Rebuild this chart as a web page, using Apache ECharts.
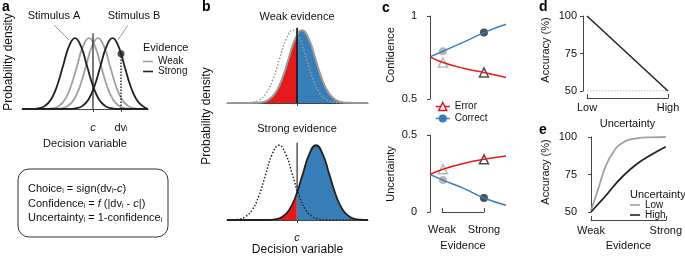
<!DOCTYPE html>
<html>
<head>
<meta charset="utf-8">
<script src="https://cdn.jsdelivr.net/npm/echarts@6/dist/echarts.min.js"></script>
<style>
  html, body { margin: 0; padding: 0; background: #fff; }
  #main { width: 685px; height: 259px; }
</style>
</head>
<body>
<div id="main"></div>
<script>
// bell shape, heights at half-sd steps
const bellOffsets = [-4, -3.5, -3, -2.5, -2, -1.5, -1, -0.5, 0, 0.5, 1, 1.5, 2, 2.5, 3, 3.5, 4];
const bellHeights = [0.0003, 0.002, 0.011, 0.044, 0.135, 0.325, 0.607, 0.882, 1, 0.882, 0.607, 0.325, 0.135, 0.044, 0.011, 0.002, 0.0003];

// a: decision variable (c = 0)
const aRange = [-71, 55];
const aSd = 12;
const aWeakMeans = [-4, 5];
const aStrongMeans = [-18, 19.5];
const aDv = 28;
const aDvDensity = 0.78;
const aCriterionTop = 1.07;

// b: [other stimulus (dotted), shown stimulus (filled)]
const bRange = [-70, 71];
const bSd = 13.4;
const bWeakMeans = [-4, 5];
const bStrongMeans = [-18, 19];
const bTop = 1.03;

// c
const evidenceX = [0, 0.17, 0.45, 0.71, 1];
const confCorrect = [0.754, 0.788, 0.844, 0.9, 0.95];
const confError = [0.754, 0.72, 0.684, 0.66, 0.63];
const uncCorrect = [0.244, 0.207, 0.152, 0.091, 0.044];
const uncError = [0.244, 0.278, 0.316, 0.342, 0.363];
const weakIdx = 1, strongIdx = 3;
const evidenceLabels = ['Weak', 'Strong'];

// d
const uncertaintyLabels = ['Low', 'High'];
const accByUncertainty = [100, 50];
const chanceLevel = [50, 50];

// e
const eEvidence = [0, 0.1, 0.2, 0.3, 0.4, 0.6, 0.8, 1];
const accLowUnc = [51, 66, 81, 90, 95.5, 99, 99.8, 100];
const accHighUnc = [50, 55.5, 61, 67, 72.5, 81.5, 88, 93.5];

const FONT = '"Liberation Sans", Arial, Helvetica, sans-serif';
const RED = '#e41a1c', BLUE = '#377eb8', GREY = '#a0a0a0', DARK = '#222', AXIS = '#444';

function bell(mean, sd, range) {
  const pts = [];
  bellOffsets.forEach((o, i) => {
    const x = mean + o * sd;
    if (x > range[0] && x < range[1]) pts.push([x, bellHeights[i]]);
  });
  return [[range[0], 0]].concat(pts, [[range[1], 0]]);
}

const pairs = (xs, ys) => xs.map((x, i) => [x, ys[i]]);

const axisLine = { show: true, lineStyle: { color: AXIS, width: 1 } };
const nameStyle = { color: '#111', fontSize: 11, fontFamily: FONT };
const labelStyle = { color: '#111', fontSize: 11, fontFamily: FONT };

var chartDom = document.getElementById('main');
var myChart = echarts.init(chartDom, null, { renderer: 'canvas' });

const grids = [
  { left: 22, top: 31, width: 126, height: 78 },    // a
  { left: 227, top: 28, width: 141, height: 75 },   // b weak
  { left: 227, top: 143, width: 141, height: 77 },  // b strong
  { left: 430, top: 16, width: 76, height: 83 },    // c confidence
  { left: 430, top: 135, width: 76, height: 77 },   // c uncertainty
  { left: 442, top: 135, width: 42, height: 77 },   // c evidence bracket
  { left: 587, top: 16, width: 81, height: 75 },    // d
  { left: 591, top: 137, width: 77, height: 75 }    // e
];

const xAxes = [
  {
    gridIndex: 0, type: 'value', min: aRange[0], max: aRange[1], offset: 8,
    axisLine, splitLine: { show: false },
    axisTick: { customValues: [0, aDv], length: 3, lineStyle: { color: AXIS } },
    axisLabel: {
      customValues: [0, aDv], margin: 5, ...labelStyle,
      formatter: v => (v === 0 ? '{it|c}' : 'dv{sub|i}'),
      rich: {
        it: { fontStyle: 'italic', fontSize: 11, fontFamily: FONT },
        sub: { fontSize: 7, fontFamily: FONT, verticalAlign: 'bottom' }
      }
    },
    name: 'Decision variable', nameLocation: 'middle', nameGap: 21, nameTextStyle: nameStyle
  },
  {
    gridIndex: 1, type: 'value', min: bRange[0], max: bRange[1], offset: 5,
    axisLine, splitLine: { show: false },
    axisTick: { customValues: [0], length: 3, lineStyle: { color: AXIS } },
    axisLabel: { show: false }
  },
  {
    gridIndex: 2, type: 'value', min: bRange[0], max: bRange[1], offset: 7,
    axisLine, splitLine: { show: false },
    axisTick: { customValues: [0], length: 3, lineStyle: { color: AXIS } },
    axisLabel: { customValues: [0], margin: 5, ...labelStyle, fontStyle: 'italic', formatter: () => 'c' },
    name: 'Decision variable', nameLocation: 'middle', nameGap: 17,
    nameTextStyle: { ...nameStyle, fontSize: 12 }
  },
  { gridIndex: 3, type: 'value', min: 0, max: 1, show: false },
  { gridIndex: 4, type: 'value', min: 0, max: 1, show: false },
  {
    gridIndex: 5, type: 'category', data: evidenceLabels, boundaryGap: false, offset: 7,
    axisLine, axisTick: { inside: true, length: 4, interval: 0, lineStyle: { color: AXIS } },
    axisLabel: { margin: 5, interval: 0, hideOverlap: false, ...labelStyle },
    name: 'Evidence', nameLocation: 'middle', nameGap: 21, nameTextStyle: nameStyle
  },
  {
    gridIndex: 6, type: 'category', data: uncertaintyLabels, boundaryGap: false, offset: 7,
    axisLine, axisTick: { inside: true, length: 4, interval: 0, lineStyle: { color: AXIS } },
    axisLabel: { margin: 4, interval: 0, ...labelStyle },
    name: 'Uncertainty', nameLocation: 'middle', nameGap: 20, nameTextStyle: nameStyle
  },
  {
    gridIndex: 7, type: 'value', min: 0, max: 1, interval: 1, offset: 8,
    axisLine, splitLine: { show: false },
    axisTick: { inside: true, length: 4, lineStyle: { color: AXIS } },
    axisLabel: { margin: 5, ...labelStyle, formatter: v => evidenceLabels[v] },
    name: 'Evidence', nameLocation: 'middle', nameGap: 20, nameTextStyle: nameStyle
  }
];

const yTicked = (gridIndex, min, max, interval, offset) => ({
  gridIndex, type: 'value', min, max, interval, offset,
  axisLine, splitLine: { show: false },
  axisTick: { show: true, length: 3, lineStyle: { color: AXIS } },
  axisLabel: { margin: 6, ...labelStyle }
});

const yAxes = [
  { gridIndex: 0, type: 'value', min: 0, max: 1.1, show: false },
  { gridIndex: 1, type: 'value', min: 0, max: bTop, offset: 10, axisLine, axisTick: { show: false }, axisLabel: { show: false }, splitLine: { show: false } },
  { gridIndex: 2, type: 'value', min: 0, max: bTop, offset: 10, axisLine, axisTick: { show: false }, axisLabel: { show: false }, splitLine: { show: false } },
  yTicked(3, 0.5, 1, 0.5, 7),
  yTicked(4, 0, 0.5, 0.5, 7),
  { gridIndex: 5, type: 'value', show: false },
  yTicked(6, 50, 100, 25, 4),
  yTicked(7, 50, 100, 25, 8)
];

const curve = (name, idx, data, color, width, extra = {}) => Object.assign({
  name, type: 'line', xAxisIndex: idx, yAxisIndex: idx, data,
  smooth: true, symbol: 'none', showSymbol: false, silent: true,
  color, lineStyle: { color, width }
}, extra);

const series = [
  // a
  curve('Weak', 0, bell(aWeakMeans[0], aSd, aRange), GREY, 1.8),
  curve('Weak', 0, bell(aWeakMeans[1], aSd, aRange), GREY, 1.8),
  curve('Strong', 0, bell(aStrongMeans[0], aSd, aRange), DARK, 1.8),
  curve('Strong', 0, bell(aStrongMeans[1], aSd, aRange), DARK, 1.8),
  curve('criterion a', 0, [[0, 0], [0, aCriterionTop]], DARK, 1.2, { smooth: false }),
  curve('dv a', 0, [[aDv, 0], [aDv, aDvDensity]], DARK, 1.4, { smooth: false, lineStyle: { color: DARK, width: 1.4, type: [1.5, 1.5] } }),
  { name: 'dv point', type: 'scatter', xAxisIndex: 0, yAxisIndex: 0, data: [[aDv, aDvDensity]], symbolSize: 7, itemStyle: { color: DARK }, silent: true },

  // b weak
  curve('shown weak', 1, bell(bWeakMeans[1], bSd, bRange), '#9a9a9a', 2, { areaStyle: { opacity: 1 } }),
  curve('other weak', 1, bell(bWeakMeans[0], bSd, bRange), '#9a9a9a', 1.5, { lineStyle: { color: '#9a9a9a', width: 1.5, type: [1.5, 1.8] } }),
  curve('criterion bw', 1, [[0, 0], [0, bTop]], '#111', 1.5, { smooth: false }),

  // b strong
  curve('criterion bs', 2, [[0, 0], [0, bTop]], '#777', 1.5, { smooth: false }),
  curve('shown strong', 2, bell(bStrongMeans[1], bSd, bRange), DARK, 1.8, { areaStyle: { opacity: 1 } }),
  curve('other strong', 2, bell(bStrongMeans[0], bSd, bRange), DARK, 1.5, { lineStyle: { color: DARK, width: 1.5, type: [1.5, 1.8] } }),

  // c confidence
  curve('Correct', 3, pairs(evidenceX, confCorrect), BLUE, 1.5, { symbol: 'circle', itemStyle: { color: BLUE } }),
  curve('Error', 3, pairs(evidenceX, confError), RED, 1.5, { symbol: 'triangle', itemStyle: { color: '#fff', borderColor: RED, borderWidth: 1.5 } }),
  // c uncertainty
  curve('Correct', 4, pairs(evidenceX, uncCorrect), BLUE, 1.5, { symbol: 'circle', itemStyle: { color: BLUE } }),
  curve('Error', 4, pairs(evidenceX, uncError), RED, 1.5, { symbol: 'triangle', itemStyle: { color: '#fff', borderColor: RED, borderWidth: 1.5 } }),

  // d
  curve('chance', 6, chanceLevel, '#aaa', 1, { smooth: false, lineStyle: { color: '#aaa', width: 1, type: [1.5, 1.5] } }),
  curve('accuracy d', 6, accByUncertainty, DARK, 1.5, { smooth: false }),

  // e
  curve('Low', 7, pairs(eEvidence, accLowUnc), GREY, 1.8),
  curve('High', 7, pairs(eEvidence, accHighUnc), DARK, 1.8)
];

// evidence markers in c
[[3, confCorrect, confError], [4, uncCorrect, uncError]].forEach(([idx, corr, err]) => {
  series.push({
    name: 'correct markers', type: 'scatter', xAxisIndex: idx, yAxisIndex: idx, silent: true,
    symbol: 'circle', symbolSize: 8,
    data: [
      { value: [evidenceX[weakIdx], corr[weakIdx]], itemStyle: { color: '#a6a6a6' } },
      { value: [evidenceX[strongIdx], corr[strongIdx]], itemStyle: { color: DARK } }
    ]
  });
  series.push({
    name: 'error markers', type: 'scatter', xAxisIndex: idx, yAxisIndex: idx, silent: true,
    symbol: 'triangle', symbolSize: 9,
    data: [
      { value: [evidenceX[weakIdx], err[weakIdx]], itemStyle: { color: '#fff', borderColor: '#a6a6a6', borderWidth: 1.5 } },
      { value: [evidenceX[strongIdx], err[strongIdx]], itemStyle: { color: '#fff', borderColor: DARK, borderWidth: 1.5 } }
    ]
  });
});

const filledIdx = series.map((s, i) => (s.areaStyle ? i : -1)).filter(i => i >= 0);

const txt = (x, y, text, style = {}, rotation = 0) => ({
  type: 'text', x, y, rotation, silent: true,
  style: Object.assign({ text, fill: '#111', fontFamily: FONT, fontSize: 11, align: 'center', verticalAlign: 'middle' }, style)
});
const letter = (x, y, t) => txt(x, y, t, { fontSize: 14, fontWeight: 'bold', align: 'left', fill: '#000' });
const formulaRich = {
  sub: { fontSize: 7, fontFamily: FONT, verticalAlign: 'bottom' },
  it: { fontSize: 11, fontFamily: FONT, fontStyle: 'italic' }
};
const lead = (x1, y1, x2, y2) => ({ type: 'line', silent: true, shape: { x1, y1, x2, y2 }, style: { stroke: '#888', lineWidth: 0.8 } });

const graphics = [
  letter(2, 7, 'a'), letter(202, 7, 'b'), letter(382, 8, 'c'), letter(539, 7, 'd'), letter(539, 130, 'e'),
  txt(54, 16, 'Stimulus A'), txt(134, 16, 'Stimulus B'),
  lead(54, 25, 69, 40), lead(128, 25, 118, 40),
  txt(143, 48, 'Evidence', { align: 'left' }),
  txt(9, 62, 'Probability density', { fontSize: 12 }, Math.PI / 2),
  { type: 'rect', silent: true, shape: { x: 18, y: 169, width: 150, height: 68, r: 11 }, style: { fill: 'none', stroke: '#333', lineWidth: 1 } },
  txt(28, 189, 'Choice{sub|i} = sign(dv{sub|i}-{it|c})', { align: 'left', rich: formulaRich }),
  txt(28, 204, 'Confidence{sub|i} = {it|f} (|dv{sub|i} - {it|c}|)', { align: 'left', rich: formulaRich }),
  txt(28, 218, 'Uncertainty{sub|i} = 1-confidence{sub|i}', { align: 'left', rich: formulaRich }),
  txt(207, 116, 'Probability density', { fontSize: 12 }, Math.PI / 2),
  txt(297, 17, 'Weak evidence'),
  txt(297, 129, 'Strong evidence'),
  txt(391, 55, 'Confidence', {}, Math.PI / 2),
  txt(391, 174, 'Uncertainty', {}, Math.PI / 2),
  txt(546, 50, 'Accuracy (%)', {}, Math.PI / 2),
  txt(546, 172, 'Accuracy (%)', {}, Math.PI / 2),
  txt(630, 195, 'Uncertainty', { align: 'left' })
];

const legendBase = { orient: 'vertical', padding: 0, selectedMode: false, textStyle: { fontSize: 10, lineHeight: 10, color: '#111', fontFamily: FONT } };

var option = {
  animation: false,
  textStyle: { fontFamily: FONT },
  grid: grids,
  xAxis: xAxes,
  yAxis: yAxes,
  visualMap: {
    type: 'piecewise', show: false, dimension: 0, seriesIndex: filledIdx,
    pieces: [
      { gte: bRange[0] - 10, lt: 0, color: RED },
      { gte: 0, lte: bRange[1] + 10, color: BLUE }
    ]
  },
  legend: [
    Object.assign({}, legendBase, {
      left: 143, top: 56.5, icon: 'rect', itemWidth: 10, itemHeight: 1.6, itemGap: 0,
      data: [{ name: 'Weak', itemStyle: { color: GREY } }, { name: 'Strong', itemStyle: { color: DARK } }]
    }),
    Object.assign({}, legendBase, {
      left: 435, top: 101.5, itemWidth: 14, itemHeight: 10, itemGap: 2,
      data: [
        { name: 'Error', itemStyle: { color: '#fff', borderColor: RED, borderWidth: 1.5 }, lineStyle: { color: RED, width: 1.5 } },
        { name: 'Correct', itemStyle: { color: BLUE, borderWidth: 0 }, lineStyle: { color: BLUE, width: 1.5 } }
      ]
    }),
    Object.assign({}, legendBase, {
      left: 630, top: 200, icon: 'rect', itemWidth: 10, itemHeight: 1.6, itemGap: 0,
      data: [{ name: 'Low', itemStyle: { color: GREY } }, { name: 'High', itemStyle: { color: DARK } }]
    })
  ],
  graphic: graphics,
  series: series
};

option && myChart.setOption(option);
</script>
</body>
</html>
